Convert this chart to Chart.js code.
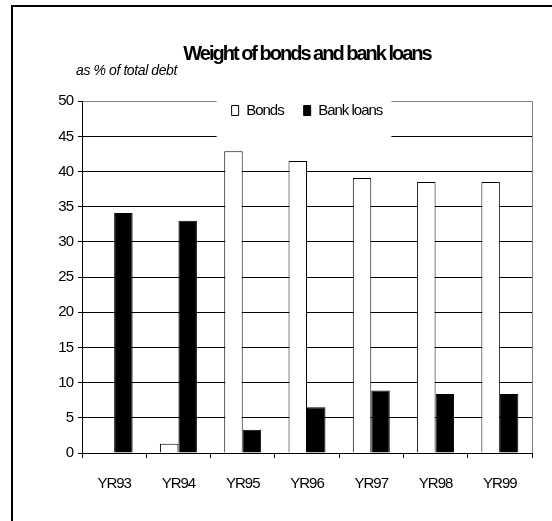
<!DOCTYPE html>
<html><head><meta charset="utf-8">
<script src="https://cdn.jsdelivr.net/npm/chart.js@4.4.1/dist/chart.umd.min.js"></script>
<style>
html,body{margin:0;padding:0;background:#fff;overflow:hidden;}
#wrap{position:relative;width:552px;height:521px;overflow:hidden;}
#frame{position:absolute;left:11px;top:5px;width:700px;height:700px;border-top:2px solid #000;border-left:2px solid #000;pointer-events:none;}
canvas{position:absolute;left:0;top:0;}
</style></head><body>
<div id="wrap"><canvas id="c" width="552" height="521"></canvas><div id="frame"></div></div>
<script>
const categories = ['YR93', 'YR94', 'YR95', 'YR96', 'YR97', 'YR98', 'YR99'];
const bonds = [0, 1.3, 42.9, 41.5, 39.1, 38.5, 38.5];
const bankLoans = [34.1, 33.0, 3.3, 6.5, 8.9, 8.4, 8.4];
const yTicks = [0, 5, 10, 15, 20, 25, 30, 35, 40, 45, 50];
const seriesNames = ['Bonds', 'Bank loans'];
const TITLE = 'Weight of bonds and bank loans';
const SUBTITLE = 'as % of total debt';

const FONT = "'Liberation Sans', Arial, Helvetica, sans-serif";
Chart.defaults.color = '#000';
Chart.defaults.font.family = FONT;

function wrapDraw(box, chart, spacing, before) {
  const orig = box.draw.bind(box);
  box.draw = function (ca) {
    const ctx = chart.ctx;
    if (before) before(ctx);
    ctx.save();
    ctx.letterSpacing = spacing;
    orig(ca);
    ctx.restore();
  };
}

const excelLayout = {
  id: 'excelLayout',
  beforeLayout(chart) {
    chart.ctx.letterSpacing = '-1px';
    if (chart._excelPatched) return;
    chart._excelPatched = true;
    const lg = chart.legend;
    lg._layers = () => [{ z: 1, draw: (ca) => lg.draw(ca) }];
    wrapDraw(lg, chart, '-1px', (ctx) => {
      const hb = lg.legendHitBoxes;
      if (!hb || !hb.length) return;
      const last = hb[hb.length - 1];
      const l = hb[0].left - 15, r = last.left + last.width + 9;
      const t = hb[0].top - 8, b = hb[0].top + hb[0].height + 20;
      ctx.save();
      ctx.fillStyle = '#fff';
      ctx.fillRect(l, t, r - l, b - t);
      ctx.restore();
    });
    wrapDraw(chart.titleBlock, chart, '-2px');
    const sb = chart.boxes.find(b => b !== chart.titleBlock && b.options && b.options.text === SUBTITLE);
    if (sb) wrapDraw(sb, chart, '-0.4px');
  },
  afterLayout(chart) {
    const tb = chart.titleBlock;
    let h = tb.bottom - tb.top;
    tb.top = 42.8; tb.bottom = tb.top + h;
    const sb = chart.boxes.find(b => b !== tb && b.options && b.options.text === SUBTITLE);
    if (sb) {
      h = sb.bottom - sb.top;
      sb.top = 62.75; sb.bottom = sb.top + h;
      sb.left = 76; sb.right = 76 + 300; sb.width = 300;
    }
    const lg = chart.legend;
    h = lg.bottom - lg.top;
    lg.top = 83; lg.bottom = lg.top + h;
  },
  beforeDraw(chart) {
    chart.ctx.letterSpacing = '-1px';
  }
};

new Chart(document.getElementById('c'), {
  type: 'bar',
  data: {
    labels: categories,
    datasets: [
      { label: seriesNames[0], data: bonds, backgroundColor: '#fff', borderColor: '#000', borderWidth: 1,
        categoryPercentage: 0.575, barPercentage: 1 },
      { label: seriesNames[1], data: bankLoans, backgroundColor: '#000', borderColor: '#000', borderWidth: 1,
        categoryPercentage: 0.575, barPercentage: 1 }
    ]
  },
  options: {
    responsive: false,
    devicePixelRatio: 1,
    animation: false,
    layout: { padding: { top: 15.4, left: 12, right: 20, bottom: 30 } },
    plugins: {
      tooltip: { enabled: false },
      title: {
        display: true, text: TITLE, fullSize: false,
        font: { family: FONT, size: 20, weight: 'bold', lineHeight: 1.2 },
        padding: 0, color: '#000'
      },
      subtitle: {
        display: true, text: SUBTITLE, align: 'start',
        font: { family: FONT, size: 14, style: 'italic', weight: 'normal', lineHeight: 1.2 },
        padding: 0, color: '#000'
      },
      legend: {
        display: true, position: 'top', fullSize: false,
        labels: { font: { family: FONT, size: 15 }, boxWidth: 7, boxHeight: 10, padding: 20, color: '#000' }
      }
    },
    scales: {
      x: {
        grid: {
          offset: true, drawOnChartArea: true, drawTicks: true, tickLength: 5,
          color: c => c.type === 'tick' ? 'rgba(0,0,0,0)' : '#808080',
          tickColor: '#000', lineWidth: 1
        },
        border: { display: true, color: '#000', width: 1 },
        ticks: { font: { family: FONT, size: 15 }, padding: 17, color: '#000', maxRotation: 0 },
        afterFit(scale) { scale.height = 38; }
      },
      y: {
        min: 0, max: 50,
        afterBuildTicks(scale) { scale.ticks = yTicks.map(v => ({ value: v })); },
        grid: {
          color: c => (c.tick && c.tick.value === 50) ? '#808080' : '#000',
          tickColor: '#000', tickLength: 4, lineWidth: 1
        },
        border: { display: true, color: '#000', width: 1 },
        ticks: { font: { family: FONT, size: 15 }, padding: 5, color: '#000' },
        afterFit(scale) { scale.width = 70; }
      }
    }
  },
  plugins: [excelLayout]
});
</script>
</body></html>
